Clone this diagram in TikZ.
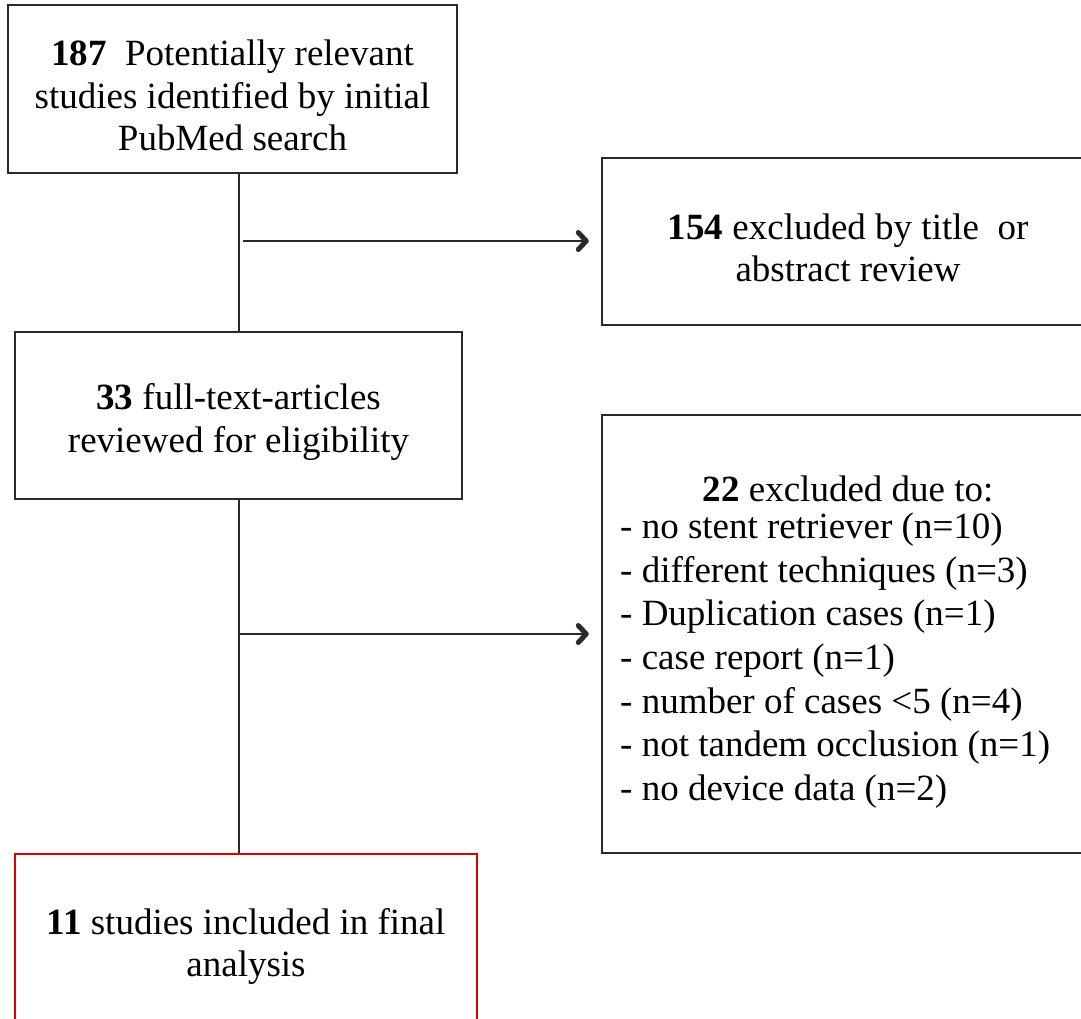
\documentclass[tikz,border=0pt]{standalone}
\usepackage{fontspec}
\setmainfont{Liberation Serif}
\usetikzlibrary{arrows.meta}
\definecolor{linegray}{HTML}{2A2A2A}
\definecolor{boxred}{HTML}{E00000}
\begin{document}
\begin{tikzpicture}[x=1pt,y=-1pt,
  box/.style={draw=linegray, line width=2.5pt, rectangle, inner sep=0pt},
  txt/.style={inner sep=0pt, align=center, font=\fontsize{37}{42.5}\selectfont},
  listtxt/.style={inner sep=0pt, align=left, font=\fontsize{37}{43.7}\selectfont},
  conn/.style={draw=linegray, line width=2.5pt},
  arr/.style={conn, -{Straight Barb[length=8pt,width=17pt,line width=5pt 0 1,round]}}
]
\useasboundingbox[fill=white] (0,0) rectangle (1081,1019);
% boxes
\node[box, minimum width=449pt, minimum height=168pt] (b1) at (232.5,89) {};
\node[box, minimum width=492pt, minimum height=167pt] (b2) at (848,241.5) {};
\node[box, minimum width=447pt, minimum height=167pt] (b3) at (238.5,415.5) {};
\node[box, minimum width=492pt, minimum height=438pt] (b4) at (848,634) {};
\node[box, draw=boxred, line width=2.8pt, minimum width=462pt, minimum height=172pt] (b5) at (246,940) {};
% texts
\node[txt] (t1) at ([yshift=-6.5pt]b1.center)
  {\textbf{187}\ \ Potentially relevant\\studies identified by initial\\PubMed search};
\node[txt] (t2) at ([yshift=-6.5pt]b2.center)
  {\textbf{154} excluded by title\ \ or\\abstract review};
\node[txt] (t3) at ([yshift=-6.5pt]b3.center)
  {\textbf{33} full-text-articles\\reviewed for eligibility};
\node[txt, anchor=base] (h4) at (848,501.5) {\textbf{22} excluded due to:};
\node[listtxt, anchor=base west] (l4) at (620,800.5)
  {- no stent retriever (n=10)\\
   - different techniques (n=3)\\
   - Duplication cases (n=1)\\
   - case report (n=1)\\
   - number of cases <5 (n=4)\\
   - not tandem occlusion (n=1)\\
   - no device data (n=2)};
\node[txt] (t5) at ([yshift=-6.5pt]b5.center)
  {\textbf{11} studies included in final\\analysis};
% connectors
\coordinate (vx) at (239,0);
\coordinate (a1) at (243,241);
\coordinate (a2) at (239,634);
\draw[conn] (b1.south -| vx) -- (b3.north -| vx);
\draw[conn] (b3.south -| vx) -- (b5.north -| vx);
\draw[arr, shorten >=12pt] (a1) -- (a1 -| b2.west);
\draw[arr, shorten >=12pt] (a2) -- (a2 -| b4.west);
\end{tikzpicture}
\end{document}
